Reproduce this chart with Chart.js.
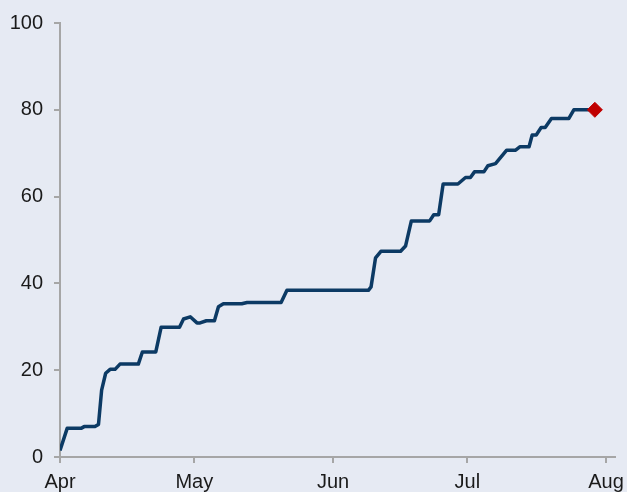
<!DOCTYPE html>
<html>
<head>
<meta charset="utf-8">
<script src="https://cdn.jsdelivr.net/npm/chart.js@4/dist/chart.umd.min.js"></script>
<style>
  html, body { margin: 0; padding: 0; background: #e6eaf3; }
  canvas { display: block; }
</style>
</head>
<body>
<canvas id="progressChart" width="627" height="492"></canvas>
<script>
// days since 1 Apr, and the cumulative index value on that day
const days = [0, 1.6, 4.7, 5.4, 7.8, 8.6, 9.3, 10.2, 11.2, 12.3, 13.4, 17.5, 18.4, 21.4, 22.6, 26.7,
  27.6, 29.1, 30.6, 31.3, 32.7, 34.5, 35.4, 36.5, 40.6, 41.8, 49.4, 50.7, 68.9, 69.5, 70.5, 71.7,
  76.1, 77.2, 78.5, 82.6, 83.5, 84.6, 85.6, 88.9, 90.6, 91.7, 92.6, 94.7, 95.6, 97.3, 99.8, 101.8,
  102.8, 104.8, 105.5, 106.4, 107.5, 108.4, 109.8, 113.7, 114.8, 119.5];
const values = [1.5, 6.6, 6.6, 7.0, 7.0, 7.5, 15.4, 19.3, 20.2, 20.2, 21.4, 21.4, 24.2, 24.2, 29.9, 29.9,
  31.8, 32.3, 30.9, 30.9, 31.4, 31.4, 34.6, 35.3, 35.3, 35.6, 35.6, 38.4, 38.4, 39.2, 45.9, 47.4,
  47.4, 48.6, 54.4, 54.4, 55.8, 55.8, 62.9, 62.9, 64.4, 64.4, 65.7, 65.7, 67.1, 67.6, 70.7, 70.7,
  71.5, 71.5, 74.2, 74.2, 75.9, 75.9, 78.0, 78.0, 80.0, 80.0];

// month starts on the same day scale
const monthDays = [0, 30, 61, 91, 122];
const monthLabels = ['Apr', 'May', 'Jun', 'Jul', 'Aug'];
const yTicks = [0, 20, 40, 60, 80, 100];

const bgColor = '#e6eaf3';
const axisColor = '#a6a6a6';
const tickFont = { family: 'Liberation Sans, Arial, sans-serif', size: 20 };

const bgPlugin = {
  id: 'bg',
  beforeDraw(chart) {
    const c = chart.ctx;
    c.save();
    c.fillStyle = bgColor;
    c.fillRect(0, 0, chart.width, chart.height);
    c.restore();
  }
};

const linePoints = days.map((d, i) => ({ x: d, y: values[i] }));
const last = linePoints[linePoints.length - 1];

const ctx = document.getElementById('progressChart');
new Chart(ctx, {
  type: 'line',
  data: {
    datasets: [{
      data: linePoints,
      borderColor: '#0c3a64',
      borderWidth: 3.5,
      pointRadius: 0,
      tension: 0,
      borderJoinStyle: 'round',
      order: 2
    }, {
      data: [last],
      showLine: false,
      pointStyle: 'rectRot',
      pointRadius: 7.5,
      pointBackgroundColor: '#c00000',
      pointBorderColor: '#c00000',
      pointBorderWidth: 1,
      order: 1
    }]
  },
  options: {
    responsive: false,
    animation: false,
    layout: { padding: { top: 23, right: 12, left: 0, bottom: 0 } },
    plugins: { legend: { display: false }, tooltip: { enabled: false } },
    scales: {
      x: {
        type: 'linear',
        min: 0,
        max: 124,
        afterBuildTicks: s => { s.ticks = monthDays.map(v => ({ value: v })); },
        afterFit: s => {
          s.height = 35;
          s.paddingLeft = 0;
          s.paddingRight = 0;
        },
        grid: { drawOnChartArea: false, drawTicks: true, tickLength: 6, color: axisColor, lineWidth: 2 },
        border: { color: axisColor, width: 2 },
        ticks: {
          autoSkip: false,
          maxRotation: 0,
          padding: 7,
          color: '#1a1a1a',
          font: tickFont,
          callback: v => monthLabels[monthDays.indexOf(v)]
        }
      },
      y: {
        min: 0,
        max: 100,
        afterBuildTicks: s => { s.ticks = yTicks.map(v => ({ value: v })); },
        afterFit: s => {
          s.width = 60;
          s.paddingTop = 0;
          s.paddingBottom = 0;
        },
        grid: { drawOnChartArea: false, drawTicks: true, tickLength: 6, color: axisColor, lineWidth: 2 },
        border: { color: axisColor, width: 2 },
        ticks: {
          padding: 11,
          color: '#1a1a1a',
          font: tickFont
        }
      }
    }
  },
  plugins: [bgPlugin]
});
</script>
</body>
</html>
